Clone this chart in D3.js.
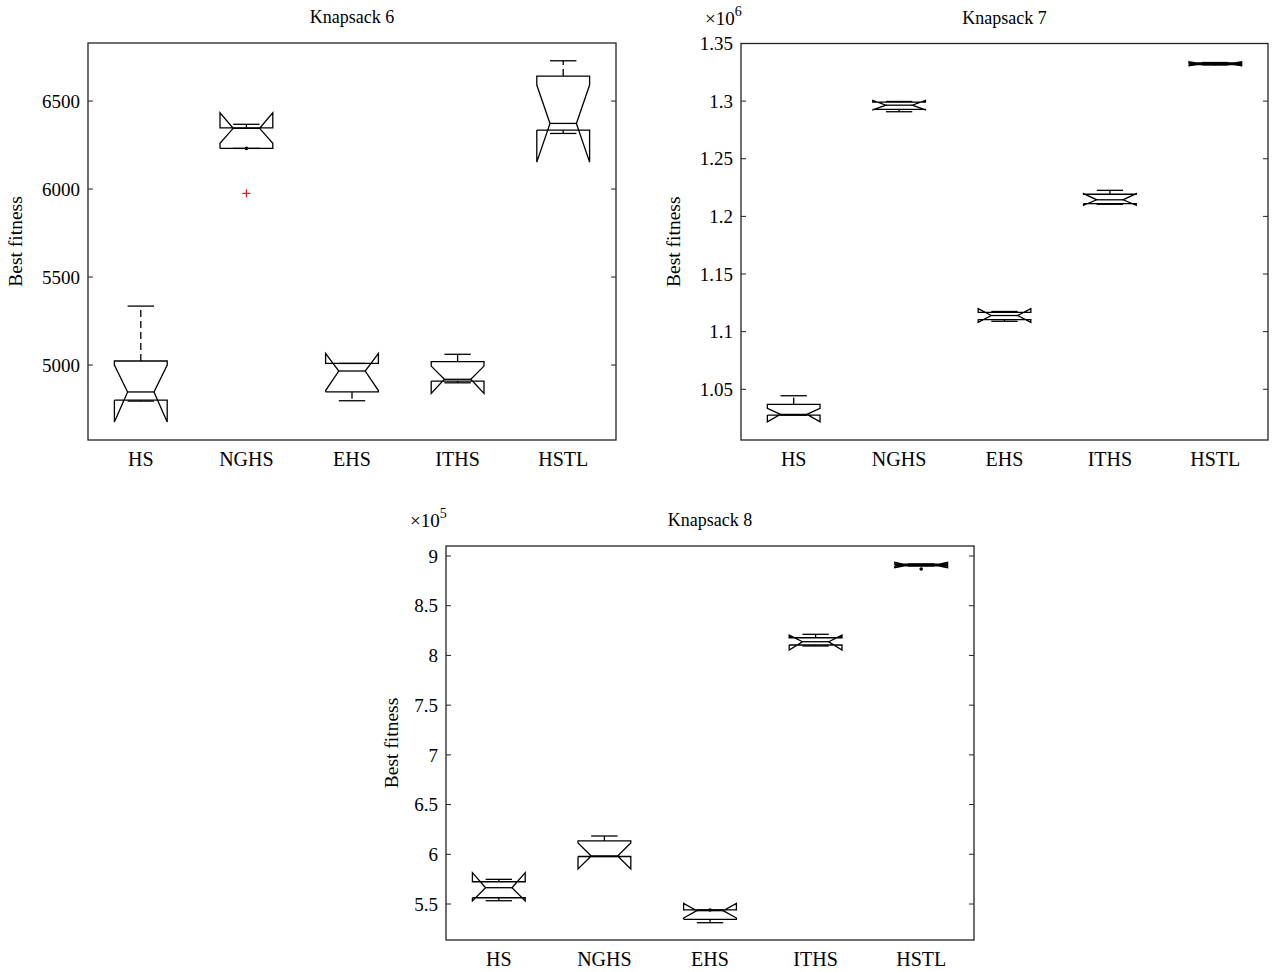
<!DOCTYPE html>
<html>
<head>
<meta charset="utf-8">
<script src="https://cdn.jsdelivr.net/npm/d3@7"></script>
<style>
  body { margin: 0; background: #fff; }
  text { font-family: "Liberation Serif", "Times New Roman", serif; fill: #000; }
</style>
</head>
<body>
<svg id="chart" width="1272" height="972"></svg>
<script>
// categories shared by all three panels
var categories = ["HS", "NGHS", "EHS", "ITHS", "HSTL"];

// Knapsack 6
var k6Min      = [4795, 6231, 4797, 4899, 6316];
var k6Q1       = [4801, 6231, 4848, 4909, 6335];
var k6Median   = [4847, 6345, 4966, 4919, 6373];
var k6Q3       = [5023, 6348, 5009, 5019, 6642];
var k6Max      = [5335, 6368, 5009, 5061, 6729];
var k6NotchLo  = [4676, 6260, 4855, 4839, 6153];
var k6NotchHi  = [5000, 6433, 5066, 4994, 6591];
var k6Dots     = [null, 6231, null, null, null];
var k6OutlierCat = ["NGHS"];
var k6OutlierVal = [5976];
var k6Ticks    = [5000, 5500, 6000, 6500];

// Knapsack 7 (x 10^6)
var k7Min      = [1.0276, 1.2908, 1.1090, 1.2105, 1.3314];
var k7Q1       = [1.0276, 1.2928, 1.1105, 1.2111, 1.3318];
var k7Median   = [1.0282, 1.2965, 1.1140, 1.2144, 1.3324];
var k7Q3       = [1.0369, 1.2991, 1.1168, 1.2192, 1.3331];
var k7Max      = [1.0444, 1.2997, 1.1175, 1.2226, 1.3335];
var k7NotchLo  = [1.0218, 1.2925, 1.1080, 1.2096, 1.3307];
var k7NotchHi  = [1.0334, 1.3006, 1.1200, 1.2198, 1.3341];
var k7Dots     = [null, null, null, null, 1.3324];
var k7Ticks    = [1.05, 1.1, 1.15, 1.2, 1.25, 1.3, 1.35];

// Knapsack 8 (x 10^5)
var k8Min      = [5.533, 5.978, 5.312, 8.095, 8.900];
var k8Q1       = [5.563, 5.978, 5.346, 8.105, 8.902];
var k8Median   = [5.664, 5.983, 5.433, 8.138, 8.909];
var k8Q3       = [5.724, 6.134, 5.440, 8.178, 8.917];
var k8Max      = [5.748, 6.184, 5.440, 8.2125, 8.920];
var k8NotchLo  = [5.530, 5.852, 5.359, 8.055, 8.882];
var k8NotchHi  = [5.815, 6.114, 5.507, 8.205, 8.937];
var k8Dots     = [null, null, 5.440, null, 8.869];
var k8Ticks    = [5.5, 6, 6.5, 7, 7.5, 8, 8.5, 9];

var svg = d3.select("#chart");

function drawPanel(p) {
    var g = svg.append("g");

    var x = d3.scalePoint().domain(categories).range([p.left, p.right]).padding(0.5);
    var y = d3.scaleLinear().domain(p.domain).range([p.bottom, p.top]);
    var step = x.step();
    var hw = step * 0.25;    // half box width
    var iw = step * 0.125;   // half notch / cap width

    // title
    g.append("text")
        .attr("x", (p.left + p.right) / 2)
        .attr("y", p.top - 20)
        .attr("text-anchor", "middle")
        .style("font-size", "18px")
        .text(p.title);

    // y label
    g.append("text")
        .attr("transform", "translate(" + p.ylabX + "," + ((p.top + p.bottom) / 2) + ") rotate(-90)")
        .attr("text-anchor", "middle")
        .style("font-size", "19.5px")
        .text("Best fitness");

    // ticks, both sides, inside
    p.ticks.forEach(function (t) {
        var ty = y(t);
        g.append("line").attr("x1", p.left).attr("x2", p.left + 5)
            .attr("y1", ty).attr("y2", ty).attr("stroke", "#222");
        g.append("line").attr("x1", p.right).attr("x2", p.right - 5)
            .attr("y1", ty).attr("y2", ty).attr("stroke", "#222");
        g.append("text")
            .attr("x", p.left - 8)
            .attr("y", ty)
            .attr("dy", "0.35em")
            .attr("text-anchor", "end")
            .style("font-size", "19px")
            .text(p.fmt(t));
    });

    // exponent
    if (p.exp) {
        var et = g.append("text")
            .attr("x", p.left - 36)
            .attr("y", p.top - 19)
            .style("font-size", "19px");
        et.append("tspan").text("\u00d710");
        et.append("tspan").attr("dy", -9).style("font-size", "14px").text(p.exp);
    }

    // category labels
    categories.forEach(function (c) {
        g.append("text")
            .attr("x", x(c))
            .attr("y", p.bottom + 26)
            .attr("text-anchor", "middle")
            .style("font-size", "20px")
            .text(c);
    });

    var line = d3.line();

    categories.forEach(function (c, i) {
        var cx = x(c);
        var L = cx - hw, R = cx + hw, iL = cx - iw, iR = cx + iw;

        // whiskers (dashed)
        g.append("line").attr("x1", cx).attr("x2", cx)
            .attr("y1", y(p.q3[i])).attr("y2", y(p.max[i]))
            .attr("stroke", "#000").attr("stroke-width", 1.3)
            .attr("stroke-dasharray", "7,4");
        g.append("line").attr("x1", cx).attr("x2", cx)
            .attr("y1", y(p.q1[i])).attr("y2", y(p.min[i]))
            .attr("stroke", "#000").attr("stroke-width", 1.3)
            .attr("stroke-dasharray", "7,4");
        // caps
        [p.max[i], p.min[i]].forEach(function (v) {
            g.append("line").attr("x1", iL).attr("x2", iR)
                .attr("y1", y(v)).attr("y2", y(v))
                .attr("stroke", "#000").attr("stroke-width", 1.3);
        });

        // notched box
        var pts = [
            [L, y(p.q1[i])], [L, y(p.notchLo[i])], [iL, y(p.median[i])],
            [L, y(p.notchHi[i])], [L, y(p.q3[i])], [R, y(p.q3[i])],
            [R, y(p.notchHi[i])], [iR, y(p.median[i])], [R, y(p.notchLo[i])],
            [R, y(p.q1[i])], [L, y(p.q1[i])]
        ];
        g.append("path")
            .attr("d", line(pts))
            .attr("fill", "none")
            .attr("stroke", "#000")
            .attr("stroke-width", 1.3)
            .attr("stroke-linejoin", "miter");

        // median
        g.append("line").attr("x1", iL).attr("x2", iR)
            .attr("y1", y(p.median[i])).attr("y2", y(p.median[i]))
            .attr("stroke", "#000").attr("stroke-width", 1.3);

        if (p.dots[i] !== null) {
            g.append("circle").attr("cx", cx).attr("cy", y(p.dots[i]))
                .attr("r", 1.8).attr("fill", "#000");
        }
    });

    // outliers
    (p.outCat || []).forEach(function (c, j) {
        var ox = x(c), oy = y(p.outVal[j]);
        g.append("path")
            .attr("d", "M" + (ox - 4) + "," + oy + "H" + (ox + 4) + "M" + ox + "," + (oy - 4) + "V" + (oy + 4))
            .attr("stroke", "#d2232a").attr("stroke-width", 1.2);
    });

    // axes box
    g.append("rect")
        .attr("x", p.left).attr("y", p.top)
        .attr("width", p.right - p.left).attr("height", p.bottom - p.top)
        .attr("fill", "none").attr("stroke", "#222").attr("stroke-width", 1.3);
}

var fmtDec = function (v) { return String(+v.toFixed(2)); };

drawPanel({
    title: "Knapsack 6", left: 88, right: 616, top: 43, bottom: 440,
    domain: [4574, 6830], ticks: k6Ticks, fmt: function (v) { return String(v); },
    ylabX: 22, exp: null,
    min: k6Min, q1: k6Q1, median: k6Median, q3: k6Q3, max: k6Max,
    notchLo: k6NotchLo, notchHi: k6NotchHi, dots: k6Dots,
    outCat: k6OutlierCat, outVal: k6OutlierVal
});

drawPanel({
    title: "Knapsack 7", left: 741, right: 1268, top: 43.5, bottom: 440,
    domain: [1.006, 1.35], ticks: k7Ticks, fmt: fmtDec,
    ylabX: 680, exp: "6",
    min: k7Min, q1: k7Q1, median: k7Median, q3: k7Q3, max: k7Max,
    notchLo: k7NotchLo, notchHi: k7NotchHi, dots: k7Dots
});

drawPanel({
    title: "Knapsack 8", left: 446, right: 974, top: 546, bottom: 940,
    domain: [5.138, 9.1006], ticks: k8Ticks, fmt: fmtDec,
    ylabX: 398, exp: "5",
    min: k8Min, q1: k8Q1, median: k8Median, q3: k8Q3, max: k8Max,
    notchLo: k8NotchLo, notchHi: k8NotchHi, dots: k8Dots
});
</script>
</body>
</html>
